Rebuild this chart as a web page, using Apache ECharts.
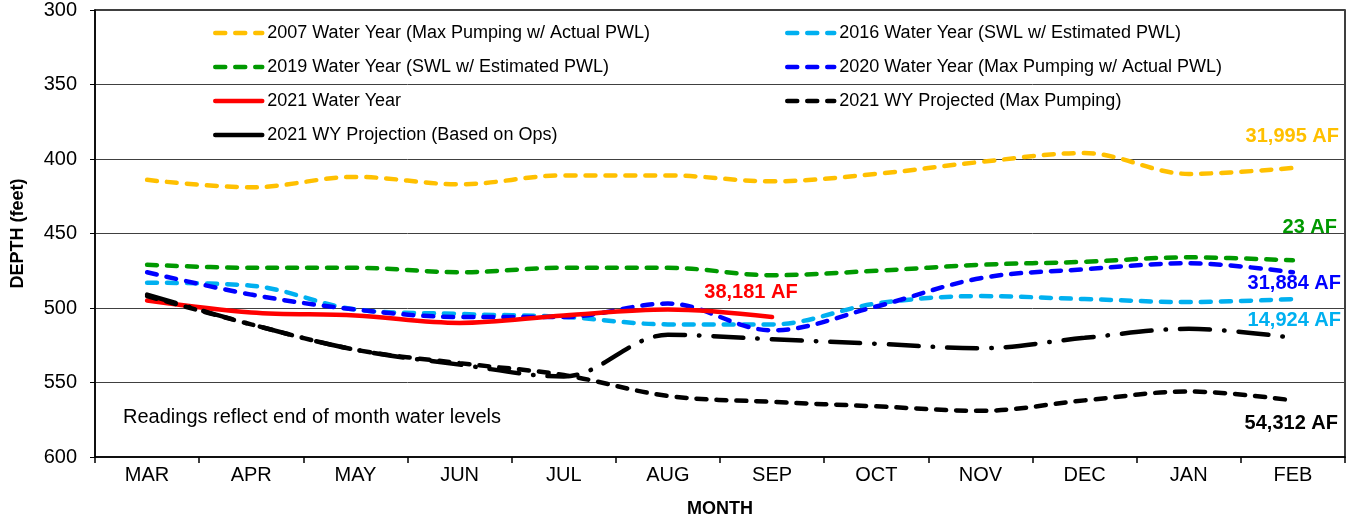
<!DOCTYPE html>
<html>
<head>
<meta charset="utf-8">
<script src="https://cdn.jsdelivr.net/npm/echarts@6/dist/echarts.min.js"></script>
<style>
  html, body { margin: 0; padding: 0; background: #fff; }
  #chart { width: 1347px; height: 520px; }
</style>
</head>
<body>
<div id="chart"></div>
<script>
const months = ['MAR', 'APR', 'MAY', 'JUN', 'JUL', 'AUG', 'SEP', 'OCT', 'NOV', 'DEC', 'JAN', 'FEB'];
const wy2007 = [414, 419, 412, 417, 411, 411, 415, 410, 402, 396, 410, 406];
const wy2016 = [483, 485, 501, 504, 506, 511, 511, 497, 492, 494, 496, 494];
const wy2019 = [471, 473, 473, 476, 473, 473, 478, 475, 471, 469, 466, 468];
const wy2020 = [476, 491, 501, 506, 506, 497, 515, 499, 480, 474, 470, 476];
const wy2021 = [495, 503, 505, 510, 505, 501, 506, null, null, null, null, null];
const wy2021MaxProj = [492, 511, 528, 537, 545, 559, 563, 566, 569, 562, 556, 562];
const wy2021OpsProj = [491, 511, 528, 538, 546, 518, 521, 524, 527, 520, 514, 520];

const names = {
    y2007: '2007 Water Year (Max Pumping w/ Actual PWL)',
    y2016: '2016 Water Year (SWL w/ Estimated PWL)',
    y2019: '2019 Water Year (SWL w/ Estimated PWL)',
    y2020: '2020 Water Year (Max Pumping w/ Actual PWL)',
    y2021: '2021 Water Year',
    maxProj: '2021 WY Projected (Max Pumping)',
    opsProj: '2021 WY Projection (Based on Ops)'
};

const font = '"Liberation Sans", Arial, sans-serif';
const dash = [10, 10];

const chart = echarts.init(document.getElementById('chart'));

function lineSeries(name, data, color, type, z) {
    return {
        name: name,
        type: 'line',
        data: data,
        smooth: 0.35,
        symbol: 'none',
        z: z,
        lineStyle: { color: color, width: 4.5, type: type, cap: 'round' },
        itemStyle: { color: color }
    };
}

const legendCommon = {
    orient: 'vertical',
    padding: 0,
    itemWidth: 47,
    itemHeight: 14,
    itemGap: 14,
    itemStyle: { opacity: 0 },
    lineStyle: { width: 4.5 },
    textStyle: { fontFamily: font, fontSize: 18, color: '#000', lineHeight: 20 }
};

const option = {
    animation: false,
    grid: {
        left: 95, right: 2, top: 10, bottom: 63,
        outerBoundsMode: 'none',
        show: true, borderColor: '#000', borderWidth: 1.5
    },
    legend: [
        Object.assign({}, legendCommon, {
            left: 213, top: 23,
            data: [names.y2007, names.y2019, names.y2021,
                { name: names.opsProj, lineStyle: { type: 'solid', cap: 'round' } }]
        }),
        Object.assign({}, legendCommon, {
            left: 785, top: 23,
            data: [names.y2016, names.y2020, names.maxProj]
        })
    ],
    xAxis: {
        type: 'category',
        data: months,
        boundaryGap: true,
        name: 'MONTH',
        nameLocation: 'middle',
        nameGap: 43,
        nameTextStyle: { fontFamily: font, fontSize: 18, fontWeight: 'bold', color: '#000' },
        axisLine: { lineStyle: { color: '#000', width: 1.5 } },
        axisTick: { show: true, length: 6, lineStyle: { color: '#000', width: 1.5 } },
        axisLabel: { fontFamily: font, fontSize: 20, color: '#000', margin: 8 },
        splitLine: { show: false }
    },
    yAxis: {
        type: 'value',
        inverse: true,
        min: 300,
        max: 600,
        interval: 50,
        name: 'DEPTH (feet)',
        nameLocation: 'middle',
        nameRotate: 90,
        nameGap: 68,
        nameTextStyle: { fontFamily: font, fontSize: 18, fontWeight: 'bold', color: '#000' },
        axisLine: { show: true, lineStyle: { color: '#000', width: 1.5 } },
        axisTick: { show: true, length: 5, lineStyle: { color: '#000' } },
        axisLabel: { fontFamily: font, fontSize: 20, color: '#000', margin: 18 },
        splitLine: { show: true, lineStyle: { color: '#404040', width: 1 } }
    },
    series: [
        lineSeries(names.y2007, wy2007, '#FFC000', dash, 2),
        lineSeries(names.y2016, wy2016, '#00B0F0', dash, 3),
        lineSeries(names.y2019, wy2019, '#009900', dash, 4),
        lineSeries(names.y2020, wy2020, '#0000FF', dash, 5),
        lineSeries(names.y2021, wy2021, '#FF0000', 'solid', 6),
        lineSeries(names.maxProj, wy2021MaxProj, '#000000', dash, 7),
        lineSeries(names.opsProj, wy2021OpsProj, '#000000', [30, 14, 0.5, 14], 8)
    ],
    graphic: [
        { type: 'text', x: 123, y: 417, style: { text: 'Readings reflect end of month water levels', font: '20px ' + font, fill: '#000', verticalAlign: 'middle' } },
        { type: 'text', x: 751, y: 292, style: { text: '38,181 AF', font: 'bold 20px ' + font, fill: '#FF0000', align: 'center', verticalAlign: 'middle' } },
        { type: 'text', x: 1339, y: 136, style: { text: '31,995 AF', font: 'bold 20px ' + font, fill: '#FFC000', align: 'right', verticalAlign: 'middle' } },
        { type: 'text', x: 1337, y: 227, style: { text: '23 AF', font: 'bold 20px ' + font, fill: '#009900', align: 'right', verticalAlign: 'middle' } },
        { type: 'text', x: 1341, y: 283, style: { text: '31,884 AF', font: 'bold 20px ' + font, fill: '#0000FF', align: 'right', verticalAlign: 'middle' } },
        { type: 'text', x: 1341, y: 320, style: { text: '14,924 AF', font: 'bold 20px ' + font, fill: '#00B0F0', align: 'right', verticalAlign: 'middle' } },
        { type: 'text', x: 1338, y: 423, style: { text: '54,312 AF', font: 'bold 20px ' + font, fill: '#000000', align: 'right', verticalAlign: 'middle' } }
    ]
};

chart.setOption(option);
</script>
</body>
</html>
